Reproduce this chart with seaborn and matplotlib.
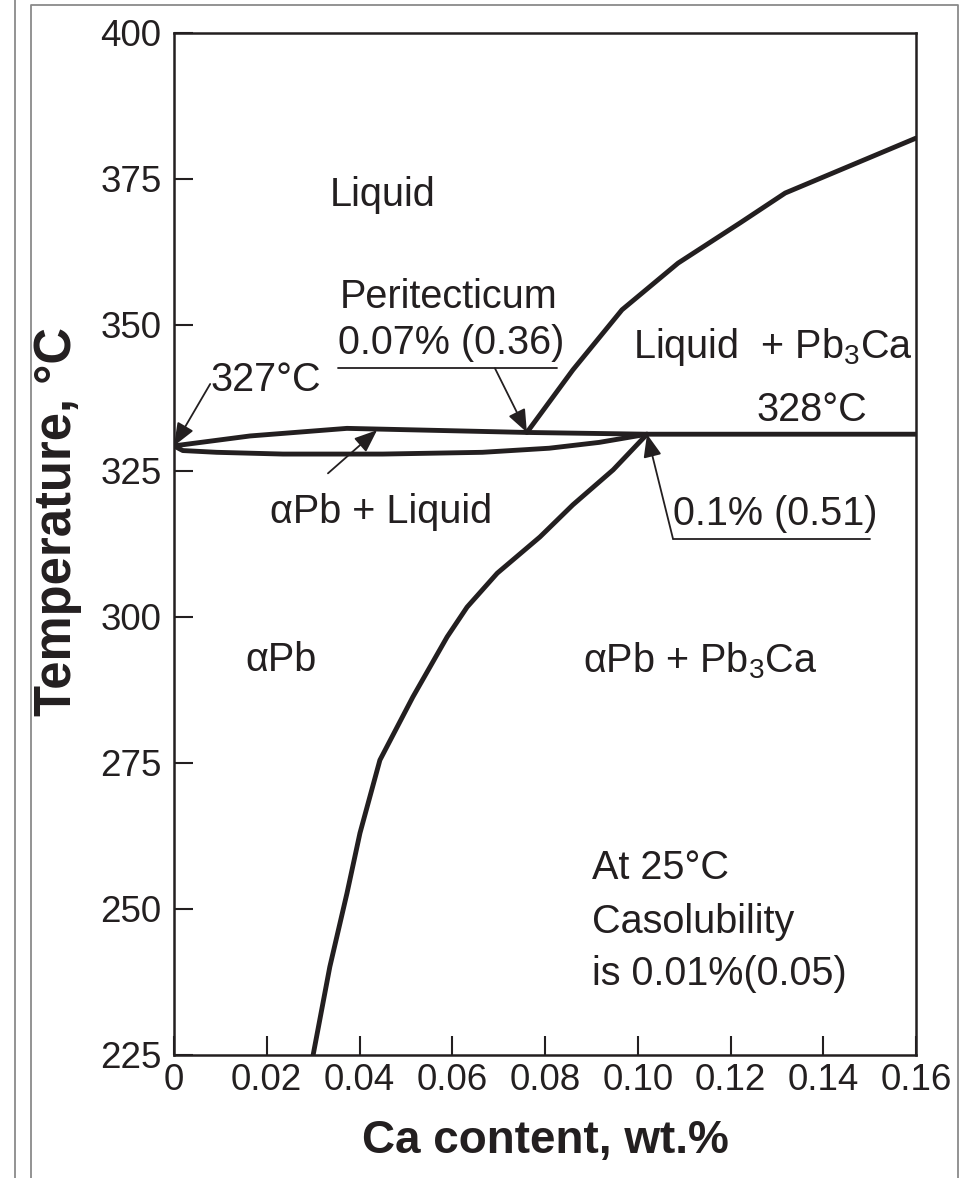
import matplotlib
matplotlib.use('Agg')
import matplotlib.pyplot as plt
import seaborn as sns
from matplotlib.lines import Line2D

# phase boundaries (Ca wt.% , temperature C)
alpha_liq_x = [0, 0.0164, 0.0373, 0.0595, 0.0761, 0.102, 0.16]
alpha_liq_t = [329.3, 331.0, 332.3, 331.9, 331.6, 331.3, 331.3]

solidus_x = [0, 0.0019, 0.0092, 0.0235, 0.0450, 0.0665, 0.0809, 0.0917, 0.102]
solidus_t = [329.3, 328.5, 328.2, 327.9, 327.9, 328.2, 328.9, 329.9, 331.3]

pb3ca_liq_x = [0.0761, 0.0860, 0.0966, 0.1087, 0.1221, 0.1318, 0.160]
pb3ca_liq_t = [331.6, 342.3, 352.6, 360.6, 367.5, 372.6, 382.0]

solvus_x = [0.102, 0.0947, 0.0860, 0.0789, 0.0697, 0.0632, 0.0589,
            0.0515, 0.0444, 0.0401, 0.0373, 0.0336, 0.0300]
solvus_t = [331.3, 325.2, 319.2, 313.7, 307.5, 301.7, 296.6,
            286.3, 275.5, 263.0, 252.7, 240.1, 225.0]

x_ticks = [0, 0.02, 0.04, 0.06, 0.08, 0.10, 0.12, 0.14, 0.16]
x_tick_labels = ['0', '0.02', '0.04', '0.06', '0.08', '0.10', '0.12', '0.14', '0.16']
y_ticks = [225, 250, 275, 300, 325, 350, 375, 400]

sns.set_style('ticks')
plt.rcParams['font.family'] = ['Liberation Sans', 'DejaVu Sans']
plt.rcParams['mathtext.fontset'] = 'custom'
plt.rcParams['mathtext.rm'] = 'Liberation Sans'
plt.rcParams['mathtext.default'] = 'regular'

ink = '#231f20'
fig = plt.figure(figsize=(9.76, 11.78), dpi=100)
ax = fig.add_axes([174 / 976, 1 - 1055 / 1178, 742 / 976, 1022 / 1178])

for xs, ts in [(alpha_liq_x, alpha_liq_t), (solidus_x, solidus_t),
               (pb3ca_liq_x, pb3ca_liq_t), (solvus_x, solvus_t)]:
    sns.lineplot(x=xs, y=ts, ax=ax, sort=False, estimator=None,
                 color=ink, lw=3.5, solid_joinstyle='round')

ax.set_xlim(0, 0.16)
ax.set_ylim(225, 400)
ax.set_xticks(x_ticks)
ax.set_xticklabels(x_tick_labels)
ax.set_yticks(y_ticks)
ax.tick_params(direction='in', length=14, width=1.5, color=ink,
               labelsize=26.5, labelcolor=ink)
ax.tick_params(axis='y', pad=9)
ax.tick_params(axis='x', pad=6)
for s in ax.spines.values():
    s.set_linewidth(1.8)
    s.set_color(ink)

ax.set_xlabel('Ca content, wt.%', fontsize=33, fontweight='bold', color=ink, labelpad=15)
ax.set_ylabel('Temperature, °C', fontsize=36.5, fontweight='bold', color=ink, va='center')
ax.yaxis.set_label_coords(-0.157, 0.522)

fs = 28.5
txt = dict(fontsize=fs, color=ink, va='center', ha='left')
ax.text(0.0336, 372.3, 'Liquid', **txt)
ax.text(0.0358, 354.8, 'Peritecticum', **txt)
ax.text(0.0354, 347.0, '0.07% (0.36)', **txt)
ax.text(0.0078, 340.6, '327°C', **txt)
ax.text(0.0990, 346.3, 'Liquid  + Pb$_3$Ca', **txt)
ax.text(0.1257, 335.4, '328°C', **txt)
ax.text(0.0207, 318.0, 'αPb + Liquid', **txt)
ax.text(0.1076, 317.6, '0.1% (0.51)', **txt)
ax.text(0.0153, 292.6, 'αPb', **txt)
ax.text(0.0882, 292.6, 'αPb + Pb$_3$Ca', **txt)
ax.text(0.0901, 257.0, 'At 25°C', **txt)
ax.text(0.0901, 247.7, 'Casolubility', **txt)
ax.text(0.0901, 238.9, 'is 0.01%(0.05)', **txt)

arrow = dict(arrowstyle='-|>,head_length=0.7,head_width=0.28', color=ink,
             lw=1.3, shrinkA=0, shrinkB=0, mutation_scale=20)
# 327 C melting point of Pb
ax.annotate('', xy=(alpha_liq_x[0], alpha_liq_t[0]), xytext=(0.0078, 339.9), arrowprops=arrow)
# peritectic point
ax.plot([0.0354, 0.0826], [342.6, 342.6], color=ink, lw=1.3)
ax.annotate('', xy=(pb3ca_liq_x[0], pb3ca_liq_t[0]), xytext=(0.0692, 342.6), arrowprops=arrow)
# two-phase region
ax.annotate('', xy=(0.0438, 332.0), xytext=(0.0332, 324.6), arrowprops=arrow)
# max solubility
ax.plot([0.1076, 0.1501], [313.4, 313.4], color=ink, lw=1.3)
ax.annotate('', xy=(solvus_x[0], solvus_t[0]), xytext=(0.1076, 313.4), arrowprops=arrow)

# page frame lines
frame = dict(color='#8a8a8a', lw=1.3, transform=fig.transFigure)
fig.add_artist(Line2D([15 / 976, 15 / 976], [0, 1], **frame))
fig.add_artist(Line2D([31 / 976, 31 / 976, 958 / 976, 958 / 976],
                      [0, 1 - 5 / 1178, 1 - 5 / 1178, 0], **frame))

fig.savefig('out.png', dpi=100)
